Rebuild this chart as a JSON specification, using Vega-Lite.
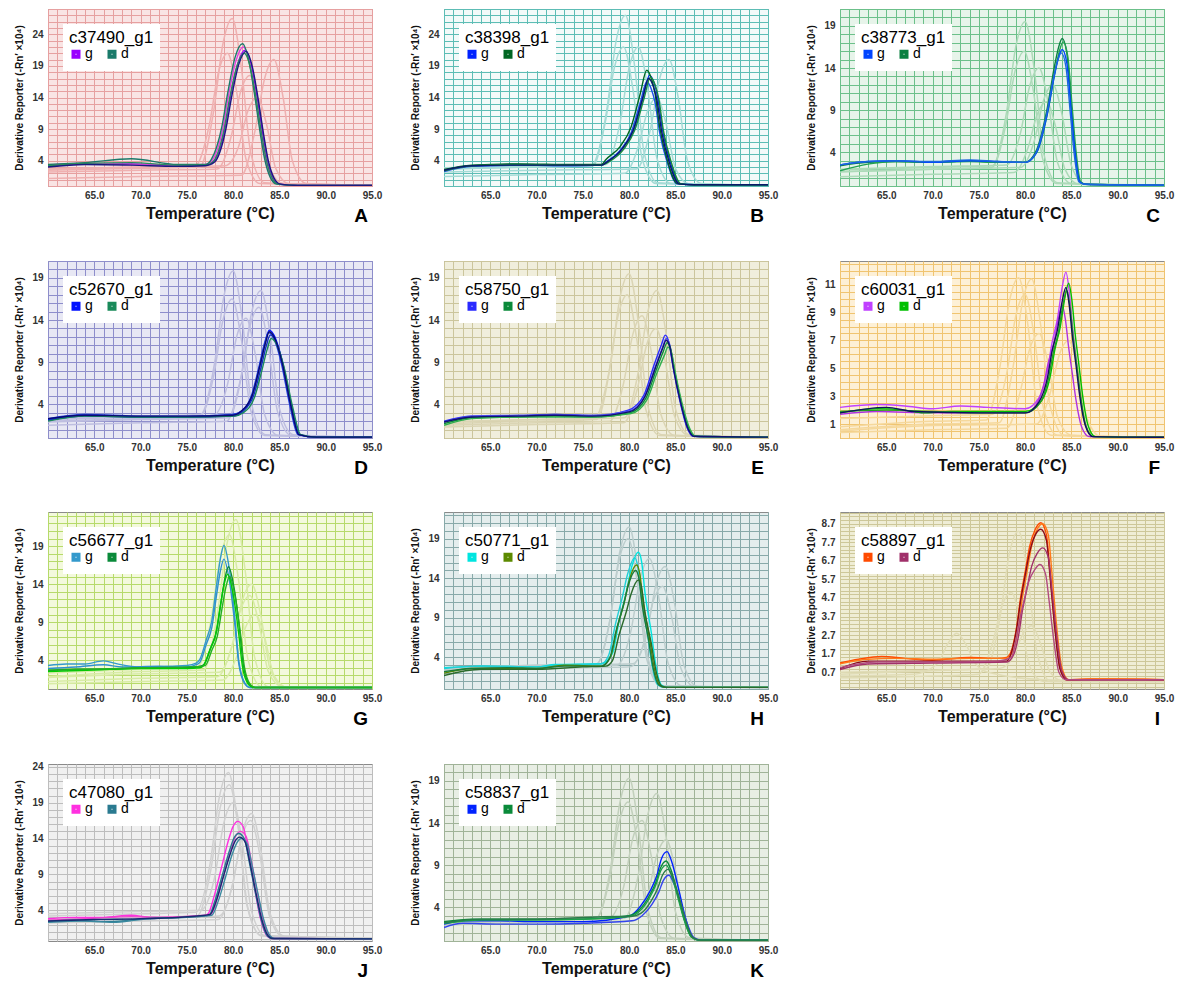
{
"$schema":"https://vega.github.io/schema/vega-lite/v6.json",
"padding":{"left":13,"top":3,"right":0,"bottom":0},
"columns":3,
"spacing":{"row":28,"column":26},
"resolve":{"scale":{"color":"independent","x":"independent","y":"independent"},"legend":{"color":"independent"}},
"config":{
"font":"Liberation Sans",
"axis":{"grid":true,"gridWidth":1,"gridOpacity":1,"domain":false,"ticks":false,"labelFont":"Liberation Sans","labelFontWeight":"bold","labelFontSize":10,"labelColor":"#333333","labelOverlap":false,"titleFont":"Liberation Sans","titleFontWeight":"bold","titleColor":"#111111"},
"axisX":{"tickCount":35,"labelPadding":4,"labelFlush":false,"titleFontSize":16,"titlePadding":5,"labelExpr":"datum.value%5==0&&datum.value>60?format(datum.value,'.1f'):''"},
"axisY":{"labelPadding":5,"titleFontSize":10,"titlePadding":7,"minExtent":17,"maxExtent":17},
"legend":{"orient":"top-left","offset":15,"direction":"horizontal","fillColor":"white","padding":6,"titleFontSize":17,"titleFontWeight":"normal","titleFont":"Liberation Sans","titleColor":"black","titlePadding":0,"labelFontSize":14,"labelColor":"black","labelFont":"Liberation Sans","symbolType":"square","symbolSize":25,"symbolStrokeWidth":4,"symbolOpacity":1,"columnPadding":8,"labelOffset":2},
"title":{"orient":"bottom","anchor":"end","frame":"group","fontSize":19,"fontWeight":"bold","font":"Liberation Sans","color":"black","offset":-14,"dx":-4}
},
"datasets":{
"A":[
{"i":"f1","x":60,"y":2.5},{"i":"f1","x":70,"y":2.8},{"i":"f1","x":76.4,"y":3.0},{"i":"f1","x":77.9,"y":11.9},{"i":"f1","x":78.9,"y":22.5},{"i":"f1","x":79.9,"y":26.5},{"i":"f1","x":80.9,"y":18.6},{"i":"f1","x":81.9,"y":5.3},{"i":"f1","x":83.4,"y":0.5},{"i":"f1","x":95,"y":0.1},
{"i":"f2","x":60,"y":2.7},{"i":"f2","x":70,"y":3.0},{"i":"f2","x":75.9,"y":3.2},{"i":"f2","x":77.4,"y":9.5},{"i":"f2","x":78.4,"y":17.9},{"i":"f2","x":79.4,"y":21},{"i":"f2","x":80.4,"y":14.7},{"i":"f2","x":81.4,"y":4.2},{"i":"f2","x":82.9,"y":0.4},{"i":"f2","x":95,"y":0.1},
{"i":"f3","x":60,"y":2.2},{"i":"f3","x":70,"y":2.5},{"i":"f3","x":78.3,"y":2.7},{"i":"f3","x":79.8,"y":7.9},{"i":"f3","x":80.8,"y":14.9},{"i":"f3","x":81.8,"y":17.5},{"i":"f3","x":82.8,"y":12.3},{"i":"f3","x":83.8,"y":3.5},{"i":"f3","x":85.3,"y":0.4},{"i":"f3","x":95,"y":0.1},
{"i":"f4","x":60,"y":1.2},{"i":"f4","x":70,"y":1.5},{"i":"f4","x":80.9,"y":1.7},{"i":"f4","x":82.4,"y":9},{"i":"f4","x":83.4,"y":17},{"i":"f4","x":84.4,"y":20},{"i":"f4","x":85.4,"y":14},{"i":"f4","x":86.4,"y":4},{"i":"f4","x":87.9,"y":0.4},{"i":"f4","x":95,"y":0.1},
{"i":"f5","x":60,"y":2.7},{"i":"f5","x":70,"y":3.0},{"i":"f5","x":79.1,"y":3.2},{"i":"f5","x":80.6,"y":6.3},{"i":"f5","x":81.6,"y":11.9},{"i":"f5","x":82.6,"y":14},{"i":"f5","x":83.6,"y":9.8},{"i":"f5","x":84.6,"y":2.8},{"i":"f5","x":86.1,"y":0.3},{"i":"f5","x":95,"y":0.1},
{"i":"g1","x":60,"y":3.1},{"i":"g1","x":64,"y":3.5},{"i":"g1","x":69,"y":3.5},{"i":"g1","x":74,"y":3.2},{"i":"g1","x":77,"y":3.3},{"i":"g1","x":77.9,"y":3.9},{"i":"g1","x":79.1,"y":9.0},{"i":"g1","x":79.7,"y":14},{"i":"g1","x":80.5,"y":19.4},{"i":"g1","x":81.3,"y":21.5},{"i":"g1","x":82,"y":18.9},{"i":"g1","x":82.6,"y":14},{"i":"g1","x":83.2,"y":8.2},{"i":"g1","x":83.7,"y":4.1},{"i":"g1","x":84.3,"y":1.3},{"i":"g1","x":85,"y":0.3},{"i":"g1","x":87,"y":0.1},{"i":"g1","x":95,"y":0.1},
{"i":"g2","x":60,"y":3.3},{"i":"g2","x":64,"y":3.6},{"i":"g2","x":69,"y":3.4},{"i":"g2","x":74,"y":3.3},{"i":"g2","x":77,"y":3.4},{"i":"g2","x":77.7,"y":4.0},{"i":"g2","x":78.9,"y":9.2},{"i":"g2","x":79.5,"y":14.3},{"i":"g2","x":80.3,"y":19.8},{"i":"g2","x":81.1,"y":22},{"i":"g2","x":81.8,"y":19.4},{"i":"g2","x":82.4,"y":14.3},{"i":"g2","x":83,"y":8.4},{"i":"g2","x":83.5,"y":4.2},{"i":"g2","x":84.1,"y":1.3},{"i":"g2","x":84.8,"y":0.3},{"i":"g2","x":87,"y":0.1},{"i":"g2","x":95,"y":0.1},
{"i":"d1","x":60,"y":3.4},{"i":"d1","x":64,"y":3.7},{"i":"d1","x":69,"y":4.3},{"i":"d1","x":74,"y":3.4},{"i":"d1","x":77,"y":3.4},{"i":"d1","x":77.6,"y":4.1},{"i":"d1","x":78.8,"y":9.5},{"i":"d1","x":79.4,"y":14.6},{"i":"d1","x":80.2,"y":20.3},{"i":"d1","x":81,"y":22.5},{"i":"d1","x":81.7,"y":19.8},{"i":"d1","x":82.3,"y":14.6},{"i":"d1","x":82.9,"y":8.6},{"i":"d1","x":83.4,"y":4.3},{"i":"d1","x":84,"y":1.4},{"i":"d1","x":84.7,"y":0.3},{"i":"d1","x":87,"y":0.1},{"i":"d1","x":95,"y":0.1},
{"i":"d2","x":60,"y":3.2},{"i":"d2","x":64,"y":3.6},{"i":"d2","x":69,"y":3.7},{"i":"d2","x":74,"y":3.3},{"i":"d2","x":77,"y":3.3},{"i":"d2","x":77.8,"y":3.8},{"i":"d2","x":79,"y":8.8},{"i":"d2","x":79.6,"y":13.7},{"i":"d2","x":80.4,"y":18.9},{"i":"d2","x":81.2,"y":21},{"i":"d2","x":81.9,"y":18.5},{"i":"d2","x":82.5,"y":13.7},{"i":"d2","x":83.1,"y":8.0},{"i":"d2","x":83.6,"y":4.0},{"i":"d2","x":84.2,"y":1.3},{"i":"d2","x":84.9,"y":0.3},{"i":"d2","x":87,"y":0.1},{"i":"d2","x":95,"y":0.1},
{"i":"k","x":60,"y":3.0},{"i":"k","x":64,"y":3.4},{"i":"k","x":69,"y":3.3},{"i":"k","x":74,"y":3.1},{"i":"k","x":77,"y":3.2},{"i":"k","x":78,"y":3.8},{"i":"k","x":79.2,"y":8.9},{"i":"k","x":79.8,"y":13.8},{"i":"k","x":80.6,"y":19.2},{"i":"k","x":81.4,"y":21.3},{"i":"k","x":82.1,"y":18.7},{"i":"k","x":82.7,"y":13.8},{"i":"k","x":83.3,"y":8.1},{"i":"k","x":83.8,"y":4.0},{"i":"k","x":84.4,"y":1.3},{"i":"k","x":85.1,"y":0.3},{"i":"k","x":87,"y":0.1},{"i":"k","x":95,"y":0.1}
],
"B":[
{"i":"f1","x":60,"y":2.7},{"i":"f1","x":70,"y":3.0},{"i":"f1","x":76.1,"y":3.2},{"i":"f1","x":77.6,"y":12.2},{"i":"f1","x":78.6,"y":23},{"i":"f1","x":79.6,"y":27},{"i":"f1","x":80.6,"y":18.9},{"i":"f1","x":81.6,"y":5.4},{"i":"f1","x":83.1,"y":0.5},{"i":"f1","x":95,"y":0.1},
{"i":"f2","x":60,"y":2.7},{"i":"f2","x":70,"y":3.0},{"i":"f2","x":75.9,"y":3.2},{"i":"f2","x":77.4,"y":9.9},{"i":"f2","x":78.4,"y":18.7},{"i":"f2","x":79.4,"y":22},{"i":"f2","x":80.4,"y":15.4},{"i":"f2","x":81.4,"y":4.4},{"i":"f2","x":82.9,"y":0.4},{"i":"f2","x":95,"y":0.1},
{"i":"f3","x":60,"y":2.9},{"i":"f3","x":70,"y":3.2},{"i":"f3","x":77.5,"y":3.4},{"i":"f3","x":79,"y":9.9},{"i":"f3","x":80,"y":18.7},{"i":"f3","x":81,"y":22},{"i":"f3","x":82,"y":15.4},{"i":"f3","x":83,"y":4.4},{"i":"f3","x":84.5,"y":0.4},{"i":"f3","x":95,"y":0.1},
{"i":"f4","x":60,"y":2.2},{"i":"f4","x":70,"y":2.5},{"i":"f4","x":80.8,"y":2.7},{"i":"f4","x":82.3,"y":9},{"i":"f4","x":83.3,"y":17},{"i":"f4","x":84.3,"y":20},{"i":"f4","x":85.3,"y":14},{"i":"f4","x":86.3,"y":4},{"i":"f4","x":87.8,"y":0.4},{"i":"f4","x":95,"y":0.1},
{"i":"f5","x":60,"y":1.5},{"i":"f5","x":70,"y":1.8},{"i":"f5","x":79.5,"y":2.0},{"i":"f5","x":81,"y":6.3},{"i":"f5","x":82,"y":11.9},{"i":"f5","x":83,"y":14},{"i":"f5","x":84,"y":9.8},{"i":"f5","x":85,"y":2.8},{"i":"f5","x":86.5,"y":0.3},{"i":"f5","x":95,"y":0.1},
{"i":"g1","x":60,"y":2.5},{"i":"g1","x":63,"y":3.2},{"i":"g1","x":68,"y":3.4},{"i":"g1","x":74,"y":3.3},{"i":"g1","x":77,"y":3.3},{"i":"g1","x":77.8,"y":4.0},{"i":"g1","x":79.3,"y":6.0},{"i":"g1","x":80.5,"y":8.9},{"i":"g1","x":81.5,"y":14},{"i":"g1","x":82.2,"y":17.5},{"i":"g1","x":82.7,"y":16.3},{"i":"g1","x":83.1,"y":14},{"i":"g1","x":83.6,"y":8.9},{"i":"g1","x":84.4,"y":4.0},{"i":"g1","x":85.5,"y":0.35},{"i":"g1","x":87,"y":0.2},{"i":"g1","x":95,"y":0.2},
{"i":"g2","x":60,"y":2.3},{"i":"g2","x":63,"y":3.1},{"i":"g2","x":68,"y":3.3},{"i":"g2","x":74,"y":3.2},{"i":"g2","x":77,"y":3.3},{"i":"g2","x":77.5,"y":3.8},{"i":"g2","x":79,"y":5.6},{"i":"g2","x":80.2,"y":8.4},{"i":"g2","x":81.2,"y":13.2},{"i":"g2","x":81.9,"y":16.5},{"i":"g2","x":82.4,"y":15.3},{"i":"g2","x":82.8,"y":13.2},{"i":"g2","x":83.3,"y":8.4},{"i":"g2","x":84.1,"y":3.8},{"i":"g2","x":85.2,"y":0.33},{"i":"g2","x":87,"y":0.2},{"i":"g2","x":95,"y":0.2},
{"i":"d1","x":60,"y":2.6},{"i":"d1","x":63,"y":3.3},{"i":"d1","x":68,"y":3.5},{"i":"d1","x":74,"y":3.4},{"i":"d1","x":77,"y":3.4},{"i":"d1","x":77.5,"y":4.2},{"i":"d1","x":79,"y":6.2},{"i":"d1","x":80.2,"y":9.3},{"i":"d1","x":81.2,"y":14.6},{"i":"d1","x":81.9,"y":18.3},{"i":"d1","x":82.4,"y":17},{"i":"d1","x":82.8,"y":14.6},{"i":"d1","x":83.3,"y":9.3},{"i":"d1","x":84.1,"y":4.2},{"i":"d1","x":85.2,"y":0.37},{"i":"d1","x":87,"y":0.2},{"i":"d1","x":95,"y":0.2},
{"i":"d2","x":60,"y":2.4},{"i":"d2","x":63,"y":3.2},{"i":"d2","x":68,"y":3.4},{"i":"d2","x":74,"y":3.3},{"i":"d2","x":77,"y":3.3},{"i":"d2","x":77.9,"y":3.9},{"i":"d2","x":79.4,"y":5.8},{"i":"d2","x":80.6,"y":8.8},{"i":"d2","x":81.6,"y":13.8},{"i":"d2","x":82.3,"y":17.2},{"i":"d2","x":82.8,"y":16},{"i":"d2","x":83.2,"y":13.8},{"i":"d2","x":83.7,"y":8.8},{"i":"d2","x":84.5,"y":4.0},{"i":"d2","x":85.6,"y":0.34},{"i":"d2","x":87,"y":0.2},{"i":"d2","x":95,"y":0.2},
{"i":"k","x":60,"y":2.5},{"i":"k","x":63,"y":3.2},{"i":"k","x":68,"y":3.3},{"i":"k","x":74,"y":3.3},{"i":"k","x":77,"y":3.3},{"i":"k","x":77.7,"y":3.9},{"i":"k","x":79.2,"y":5.8},{"i":"k","x":80.4,"y":8.7},{"i":"k","x":81.4,"y":13.6},{"i":"k","x":82.1,"y":17},{"i":"k","x":82.6,"y":15.8},{"i":"k","x":83,"y":13.6},{"i":"k","x":83.5,"y":8.7},{"i":"k","x":84.3,"y":3.9},{"i":"k","x":85.4,"y":0.34},{"i":"k","x":87,"y":0.2},{"i":"k","x":95,"y":0.2}
],
"C":[
{"i":"f1","x":60,"y":1.9},{"i":"f1","x":70,"y":2.2},{"i":"f1","x":76.5,"y":2.4},{"i":"f1","x":78,"y":8.8},{"i":"f1","x":79,"y":16.6},{"i":"f1","x":80,"y":19.5},{"i":"f1","x":81,"y":13.7},{"i":"f1","x":82,"y":3.9},{"i":"f1","x":83.5,"y":0.4},{"i":"f1","x":95,"y":0.1},
{"i":"f2","x":60,"y":1.7},{"i":"f2","x":70,"y":2.0},{"i":"f2","x":76.4,"y":2.2},{"i":"f2","x":77.9,"y":7.2},{"i":"f2","x":78.9,"y":13.6},{"i":"f2","x":79.9,"y":16},{"i":"f2","x":80.9,"y":11.2},{"i":"f2","x":81.9,"y":3.2},{"i":"f2","x":83.4,"y":0.3},{"i":"f2","x":95,"y":0.1},
{"i":"f3","x":60,"y":2.0},{"i":"f3","x":70,"y":2.3},{"i":"f3","x":78,"y":2.5},{"i":"f3","x":79.5,"y":6.3},{"i":"f3","x":80.5,"y":11.9},{"i":"f3","x":81.5,"y":14},{"i":"f3","x":82.5,"y":9.8},{"i":"f3","x":83.5,"y":2.8},{"i":"f3","x":85,"y":0.3},{"i":"f3","x":95,"y":0.1},
{"i":"f4","x":60,"y":1.7},{"i":"f4","x":70,"y":2.0},{"i":"f4","x":79.5,"y":2.2},{"i":"f4","x":81,"y":5.4},{"i":"f4","x":82,"y":10.2},{"i":"f4","x":83,"y":12},{"i":"f4","x":84,"y":8.4},{"i":"f4","x":85,"y":2.4},{"i":"f4","x":86.5,"y":0.2},{"i":"f4","x":95,"y":0.1},
{"i":"f5","x":60,"y":1.1},{"i":"f5","x":70,"y":1.4},{"i":"f5","x":78.8,"y":1.6},{"i":"f5","x":80.3,"y":4.5},{"i":"f5","x":81.3,"y":8.5},{"i":"f5","x":82.3,"y":10},{"i":"f5","x":83.3,"y":7},{"i":"f5","x":84.3,"y":2},{"i":"f5","x":85.8,"y":0.2},{"i":"f5","x":95,"y":0.1},
{"i":"d1","x":60,"y":2.4},{"i":"d1","x":63,"y":2.8},{"i":"d1","x":66,"y":2.9},{"i":"d1","x":70,"y":2.8},{"i":"d1","x":74,"y":3.0},{"i":"d1","x":77,"y":2.8},{"i":"d1","x":80,"y":2.8},{"i":"d1","x":81.2,"y":4.2},{"i":"d1","x":82.4,"y":9.3},{"i":"d1","x":83.2,"y":14.4},{"i":"d1","x":83.65,"y":16.6},{"i":"d1","x":84,"y":17.5},{"i":"d1","x":84.5,"y":15.8},{"i":"d1","x":85,"y":9.3},{"i":"d1","x":85.4,"y":4.2},{"i":"d1","x":85.9,"y":0.5},{"i":"d1","x":86.5,"y":0.2},{"i":"d1","x":95,"y":0.1},
{"i":"d2","x":60,"y":1.8},{"i":"d2","x":63,"y":2.6},{"i":"d2","x":66,"y":2.9},{"i":"d2","x":70,"y":2.8},{"i":"d2","x":74,"y":2.9},{"i":"d2","x":77,"y":2.8},{"i":"d2","x":80,"y":2.8},{"i":"d2","x":81.3,"y":4.1},{"i":"d2","x":82.5,"y":9.1},{"i":"d2","x":83.3,"y":14},{"i":"d2","x":83.75,"y":16.2},{"i":"d2","x":84.1,"y":17.1},{"i":"d2","x":84.6,"y":15.4},{"i":"d2","x":85.1,"y":9.1},{"i":"d2","x":85.5,"y":4.1},{"i":"d2","x":86,"y":0.5},{"i":"d2","x":86.6,"y":0.2},{"i":"d2","x":95,"y":0.1},
{"i":"g1","x":60,"y":2.5},{"i":"g1","x":63,"y":2.9},{"i":"g1","x":66,"y":3.0},{"i":"g1","x":70,"y":2.8},{"i":"g1","x":74,"y":3.0},{"i":"g1","x":77,"y":2.9},{"i":"g1","x":80,"y":2.8},{"i":"g1","x":81.2,"y":3.9},{"i":"g1","x":82.4,"y":8.6},{"i":"g1","x":83.2,"y":13.3},{"i":"g1","x":83.65,"y":15.4},{"i":"g1","x":84,"y":16.2},{"i":"g1","x":84.5,"y":14.6},{"i":"g1","x":85,"y":8.6},{"i":"g1","x":85.4,"y":3.9},{"i":"g1","x":85.9,"y":0.5},{"i":"g1","x":86.5,"y":0.2},{"i":"g1","x":95,"y":0.1},
{"i":"g2","x":60,"y":2.5},{"i":"g2","x":63,"y":2.9},{"i":"g2","x":66,"y":3.0},{"i":"g2","x":70,"y":2.9},{"i":"g2","x":74,"y":3.1},{"i":"g2","x":77,"y":2.9},{"i":"g2","x":80,"y":2.8},{"i":"g2","x":81.1,"y":3.8},{"i":"g2","x":82.3,"y":8.4},{"i":"g2","x":83.1,"y":13},{"i":"g2","x":83.55,"y":15},{"i":"g2","x":83.9,"y":15.8},{"i":"g2","x":84.4,"y":14.2},{"i":"g2","x":84.9,"y":8.4},{"i":"g2","x":85.3,"y":3.8},{"i":"g2","x":85.8,"y":0.5},{"i":"g2","x":86.4,"y":0.2},{"i":"g2","x":95,"y":0.1}
],
"D":[
{"i":"f1","x":60,"y":2.3},{"i":"f1","x":70,"y":2.6},{"i":"f1","x":76.5,"y":2.8},{"i":"f1","x":78,"y":8.9},{"i":"f1","x":79,"y":16.8},{"i":"f1","x":80,"y":19.8},{"i":"f1","x":81,"y":13.9},{"i":"f1","x":82,"y":4.0},{"i":"f1","x":83.5,"y":0.4},{"i":"f1","x":95,"y":0.1},
{"i":"f2","x":60,"y":2.0},{"i":"f2","x":70,"y":2.3},{"i":"f2","x":76.4,"y":2.5},{"i":"f2","x":77.9,"y":7.4},{"i":"f2","x":78.9,"y":14},{"i":"f2","x":79.9,"y":16.5},{"i":"f2","x":80.9,"y":11.6},{"i":"f2","x":81.9,"y":3.3},{"i":"f2","x":83.4,"y":0.3},{"i":"f2","x":95,"y":0.1},
{"i":"f3","x":60,"y":2.2},{"i":"f3","x":70,"y":2.5},{"i":"f3","x":77.9,"y":2.7},{"i":"f3","x":79.4,"y":6.4},{"i":"f3","x":80.4,"y":12.1},{"i":"f3","x":81.4,"y":14.2},{"i":"f3","x":82.4,"y":9.9},{"i":"f3","x":83.4,"y":2.8},{"i":"f3","x":84.9,"y":0.3},{"i":"f3","x":95,"y":0.1},
{"i":"f4","x":60,"y":1.9},{"i":"f4","x":70,"y":2.2},{"i":"f4","x":79.5,"y":2.4},{"i":"f4","x":81,"y":7.9},{"i":"f4","x":82,"y":14.9},{"i":"f4","x":83,"y":17.5},{"i":"f4","x":84,"y":12.3},{"i":"f4","x":85,"y":3.5},{"i":"f4","x":86.5,"y":0.4},{"i":"f4","x":95,"y":0.1},
{"i":"f5","x":60,"y":1.5},{"i":"f5","x":70,"y":1.8},{"i":"f5","x":79.3,"y":2.0},{"i":"f5","x":80.8,"y":7},{"i":"f5","x":81.8,"y":13.2},{"i":"f5","x":82.8,"y":15.5},{"i":"f5","x":83.8,"y":10.9},{"i":"f5","x":84.8,"y":3.1},{"i":"f5","x":86.3,"y":0.3},{"i":"f5","x":95,"y":0.1},
{"i":"g1","x":60,"y":2.2},{"i":"g1","x":64,"y":2.7},{"i":"g1","x":70,"y":2.5},{"i":"g1","x":75,"y":2.5},{"i":"g1","x":79.9,"y":2.7},{"i":"g1","x":80.9,"y":3.2},{"i":"g1","x":82.1,"y":5.2},{"i":"g1","x":82.9,"y":8.7},{"i":"g1","x":83.5,"y":11.5},{"i":"g1","x":83.9,"y":12.8},{"i":"g1","x":84.5,"y":12},{"i":"g1","x":85.3,"y":9.1},{"i":"g1","x":86.2,"y":4.1},{"i":"g1","x":87.1,"y":0.4},{"i":"g1","x":89,"y":0.1},{"i":"g1","x":95,"y":0.1},
{"i":"g2","x":60,"y":2.3},{"i":"g2","x":64,"y":2.8},{"i":"g2","x":70,"y":2.6},{"i":"g2","x":75,"y":2.6},{"i":"g2","x":79.8,"y":2.8},{"i":"g2","x":80.8,"y":3.1},{"i":"g2","x":82,"y":5.1},{"i":"g2","x":82.8,"y":8.5},{"i":"g2","x":83.4,"y":11.3},{"i":"g2","x":83.8,"y":12.5},{"i":"g2","x":84.4,"y":11.8},{"i":"g2","x":85.2,"y":8.9},{"i":"g2","x":86.1,"y":4.0},{"i":"g2","x":87,"y":0.4},{"i":"g2","x":89,"y":0.1},{"i":"g2","x":95,"y":0.1},
{"i":"g3","x":60,"y":2.1},{"i":"g3","x":64,"y":2.6},{"i":"g3","x":70,"y":2.5},{"i":"g3","x":75,"y":2.5},{"i":"g3","x":80,"y":2.6},{"i":"g3","x":81,"y":3.1},{"i":"g3","x":82.2,"y":5.0},{"i":"g3","x":83,"y":8.3},{"i":"g3","x":83.6,"y":11},{"i":"g3","x":84,"y":12.2},{"i":"g3","x":84.6,"y":11.5},{"i":"g3","x":85.4,"y":8.7},{"i":"g3","x":86.3,"y":3.9},{"i":"g3","x":87.2,"y":0.4},{"i":"g3","x":89,"y":0.1},{"i":"g3","x":95,"y":0.1},
{"i":"d1","x":60,"y":2.0},{"i":"d1","x":64,"y":2.6},{"i":"d1","x":70,"y":2.5},{"i":"d1","x":75,"y":2.5},{"i":"d1","x":80.1,"y":2.6},{"i":"d1","x":81.1,"y":3.0},{"i":"d1","x":82.3,"y":4.8},{"i":"d1","x":83.1,"y":8.0},{"i":"d1","x":83.7,"y":10.6},{"i":"d1","x":84.1,"y":11.8},{"i":"d1","x":84.7,"y":11.1},{"i":"d1","x":85.5,"y":8.4},{"i":"d1","x":86.4,"y":3.8},{"i":"d1","x":87.3,"y":0.4},{"i":"d1","x":89,"y":0.1},{"i":"d1","x":95,"y":0.1},
{"i":"k","x":60,"y":2.3},{"i":"k","x":64,"y":2.7},{"i":"k","x":70,"y":2.6},{"i":"k","x":75,"y":2.6},{"i":"k","x":79.9,"y":2.7},{"i":"k","x":80.9,"y":3.2},{"i":"k","x":82.1,"y":5.2},{"i":"k","x":82.9,"y":8.6},{"i":"k","x":83.5,"y":11.3},{"i":"k","x":83.9,"y":12.6},{"i":"k","x":84.5,"y":11.8},{"i":"k","x":85.3,"y":8.9},{"i":"k","x":86.2,"y":4.0},{"i":"k","x":87.1,"y":0.4},{"i":"k","x":89,"y":0.1},{"i":"k","x":95,"y":0.1}
],
"E":[
{"i":"f1","x":60,"y":1.7},{"i":"f1","x":70,"y":2.0},{"i":"f1","x":76.5,"y":2.2},{"i":"f1","x":78,"y":8.8},{"i":"f1","x":79,"y":16.6},{"i":"f1","x":80,"y":19.5},{"i":"f1","x":81,"y":13.7},{"i":"f1","x":82,"y":3.9},{"i":"f1","x":83.5,"y":0.4},{"i":"f1","x":95,"y":0.1},
{"i":"f2","x":60,"y":1.9},{"i":"f2","x":70,"y":2.2},{"i":"f2","x":76.3,"y":2.4},{"i":"f2","x":77.8,"y":7.7},{"i":"f2","x":78.8,"y":14.5},{"i":"f2","x":79.8,"y":17},{"i":"f2","x":80.8,"y":11.9},{"i":"f2","x":81.8,"y":3.4},{"i":"f2","x":83.3,"y":0.3},{"i":"f2","x":95,"y":0.1},
{"i":"f3","x":60,"y":1.5},{"i":"f3","x":70,"y":1.8},{"i":"f3","x":77.9,"y":2.0},{"i":"f3","x":79.4,"y":6.5},{"i":"f3","x":80.4,"y":12.3},{"i":"f3","x":81.4,"y":14.5},{"i":"f3","x":82.4,"y":10.2},{"i":"f3","x":83.4,"y":2.9},{"i":"f3","x":84.9,"y":0.3},{"i":"f3","x":95,"y":0.1},
{"i":"f4","x":60,"y":1.9},{"i":"f4","x":70,"y":2.2},{"i":"f4","x":79.5,"y":2.4},{"i":"f4","x":81,"y":7.9},{"i":"f4","x":82,"y":14.9},{"i":"f4","x":83,"y":17.5},{"i":"f4","x":84,"y":12.3},{"i":"f4","x":85,"y":3.5},{"i":"f4","x":86.5,"y":0.4},{"i":"f4","x":95,"y":0.1},
{"i":"f5","x":60,"y":1.3},{"i":"f5","x":70,"y":1.6},{"i":"f5","x":79.4,"y":1.8},{"i":"f5","x":80.9,"y":5.9},{"i":"f5","x":81.9,"y":11.1},{"i":"f5","x":82.9,"y":13},{"i":"f5","x":83.9,"y":9.1},{"i":"f5","x":84.9,"y":2.6},{"i":"f5","x":86.4,"y":0.3},{"i":"f5","x":95,"y":0.1},
{"i":"g1","x":60,"y":2.0},{"i":"g1","x":63,"y":2.6},{"i":"g1","x":68,"y":2.6},{"i":"g1","x":72,"y":2.8},{"i":"g1","x":76,"y":2.6},{"i":"g1","x":79.9,"y":3.3},{"i":"g1","x":81.6,"y":5.1},{"i":"g1","x":82.7,"y":8.7},{"i":"g1","x":83.5,"y":11.1},{"i":"g1","x":83.9,"y":12.2},{"i":"g1","x":84.3,"y":11.3},{"i":"g1","x":84.7,"y":8.7},{"i":"g1","x":85.4,"y":4.8},{"i":"g1","x":86.3,"y":1.1},{"i":"g1","x":86.9,"y":0.2},{"i":"g1","x":95,"y":0.1},
{"i":"g2","x":60,"y":1.9},{"i":"g2","x":63,"y":2.6},{"i":"g2","x":68,"y":2.7},{"i":"g2","x":72,"y":2.8},{"i":"g2","x":76,"y":2.7},{"i":"g2","x":80,"y":3.2},{"i":"g2","x":81.7,"y":5.0},{"i":"g2","x":82.8,"y":8.4},{"i":"g2","x":83.6,"y":10.7},{"i":"g2","x":84,"y":11.8},{"i":"g2","x":84.4,"y":11},{"i":"g2","x":84.8,"y":8.4},{"i":"g2","x":85.5,"y":4.6},{"i":"g2","x":86.4,"y":1.1},{"i":"g2","x":87,"y":0.2},{"i":"g2","x":95,"y":0.1},
{"i":"d1","x":60,"y":1.7},{"i":"d1","x":63,"y":2.4},{"i":"d1","x":68,"y":2.5},{"i":"d1","x":72,"y":2.6},{"i":"d1","x":76,"y":2.5},{"i":"d1","x":80.1,"y":3.0},{"i":"d1","x":81.8,"y":4.7},{"i":"d1","x":82.9,"y":8.0},{"i":"d1","x":83.7,"y":10.3},{"i":"d1","x":84.1,"y":11.3},{"i":"d1","x":84.5,"y":10.5},{"i":"d1","x":84.9,"y":8.0},{"i":"d1","x":85.6,"y":4.4},{"i":"d1","x":86.5,"y":1.0},{"i":"d1","x":87.1,"y":0.2},{"i":"d1","x":95,"y":0.1},
{"i":"d2","x":60,"y":1.5},{"i":"d2","x":63,"y":2.3},{"i":"d2","x":68,"y":2.5},{"i":"d2","x":72,"y":2.5},{"i":"d2","x":76,"y":2.5},{"i":"d2","x":80.2,"y":2.9},{"i":"d2","x":81.9,"y":4.5},{"i":"d2","x":83,"y":7.7},{"i":"d2","x":83.8,"y":9.8},{"i":"d2","x":84.2,"y":10.8},{"i":"d2","x":84.6,"y":10},{"i":"d2","x":85,"y":7.7},{"i":"d2","x":85.7,"y":4.2},{"i":"d2","x":86.6,"y":1.0},{"i":"d2","x":87.2,"y":0.2},{"i":"d2","x":95,"y":0.1},
{"i":"k","x":60,"y":1.9},{"i":"k","x":63,"y":2.5},{"i":"k","x":68,"y":2.6},{"i":"k","x":72,"y":2.7},{"i":"k","x":76,"y":2.6},{"i":"k","x":80,"y":3.1},{"i":"k","x":81.7,"y":4.9},{"i":"k","x":82.8,"y":8.2},{"i":"k","x":83.6,"y":10.6},{"i":"k","x":84,"y":11.6},{"i":"k","x":84.4,"y":10.8},{"i":"k","x":84.8,"y":8.2},{"i":"k","x":85.5,"y":4.5},{"i":"k","x":86.4,"y":1.0},{"i":"k","x":87,"y":0.2},{"i":"k","x":95,"y":0.1}
],
"F":[
{"i":"f1","x":60,"y":0.8},{"i":"f1","x":70,"y":1.2},{"i":"f1","x":75.8,"y":1.3},{"i":"f1","x":77.3,"y":5.2},{"i":"f1","x":78.3,"y":9.8},{"i":"f1","x":79.3,"y":11.5},{"i":"f1","x":80.3,"y":8.1},{"i":"f1","x":81.3,"y":2.3},{"i":"f1","x":82.8,"y":0.2},{"i":"f1","x":95,"y":0.05},
{"i":"f2","x":60,"y":0.6},{"i":"f2","x":70,"y":1.0},{"i":"f2","x":77.2,"y":1.1},{"i":"f2","x":78.7,"y":5.1},{"i":"f2","x":79.7,"y":9.7},{"i":"f2","x":80.7,"y":11.4},{"i":"f2","x":81.7,"y":8.0},{"i":"f2","x":82.7,"y":2.3},{"i":"f2","x":84.2,"y":0.2},{"i":"f2","x":95,"y":0.05},
{"i":"f3","x":60,"y":1.4},{"i":"f3","x":70,"y":1.6},{"i":"f3","x":76.5,"y":1.7},{"i":"f3","x":78,"y":4.6},{"i":"f3","x":79,"y":8.8},{"i":"f3","x":80,"y":10.3},{"i":"f3","x":81,"y":7.2},{"i":"f3","x":82,"y":2.1},{"i":"f3","x":83.5,"y":0.2},{"i":"f3","x":95,"y":0.05},
{"i":"f4","x":60,"y":0.4},{"i":"f4","x":70,"y":0.6},{"i":"f4","x":78,"y":0.7},{"i":"f4","x":79.5,"y":3.4},{"i":"f4","x":80.5,"y":6.4},{"i":"f4","x":81.5,"y":7.5},{"i":"f4","x":82.5,"y":5.3},{"i":"f4","x":83.5,"y":1.5},{"i":"f4","x":85,"y":0.2},{"i":"f4","x":95,"y":0.05},
{"i":"f5","x":60,"y":0.5},{"i":"f5","x":70,"y":0.9},{"i":"f5","x":81.2,"y":1.0},{"i":"f5","x":82.7,"y":3.2},{"i":"f5","x":83.7,"y":6.0},{"i":"f5","x":84.7,"y":7},{"i":"f5","x":85.7,"y":4.9},{"i":"f5","x":86.7,"y":1.4},{"i":"f5","x":88.2,"y":0.1},{"i":"f5","x":95,"y":0.05},
{"i":"g1","x":60,"y":2.2},{"i":"g1","x":64,"y":2.4},{"i":"g1","x":67,"y":2.3},{"i":"g1","x":70,"y":2.1},{"i":"g1","x":73,"y":2.3},{"i":"g1","x":76,"y":2.2},{"i":"g1","x":80,"y":2.1},{"i":"g1","x":81.5,"y":2.9},{"i":"g1","x":82.4,"y":4.8},{"i":"g1","x":82.9,"y":6.8},{"i":"g1","x":83.5,"y":8.6},{"i":"g1","x":84,"y":10.8},{"i":"g1","x":84.4,"y":11.9},{"i":"g1","x":84.75,"y":10.6},{"i":"g1","x":85.1,"y":8.1},{"i":"g1","x":85.5,"y":5.7},{"i":"g1","x":85.9,"y":3.3},{"i":"g1","x":86.5,"y":1.0},{"i":"g1","x":87.3,"y":0.1},{"i":"g1","x":95,"y":0.05},
{"i":"g2","x":60,"y":1.7},{"i":"g2","x":64,"y":1.9},{"i":"g2","x":70,"y":1.8},{"i":"g2","x":76,"y":1.8},{"i":"g2","x":80,"y":1.8},{"i":"g2","x":81.1,"y":2.3},{"i":"g2","x":82,"y":3.8},{"i":"g2","x":82.5,"y":5.4},{"i":"g2","x":83.1,"y":6.8},{"i":"g2","x":83.6,"y":8.6},{"i":"g2","x":84,"y":9.5},{"i":"g2","x":84.35,"y":8.5},{"i":"g2","x":84.7,"y":6.5},{"i":"g2","x":85.1,"y":4.6},{"i":"g2","x":85.5,"y":2.7},{"i":"g2","x":86.1,"y":0.8},{"i":"g2","x":86.9,"y":0.1},{"i":"g2","x":95,"y":0.05},
{"i":"d1","x":60,"y":1.8},{"i":"d1","x":64,"y":2.1},{"i":"d1","x":67,"y":2.0},{"i":"d1","x":69,"y":1.8},{"i":"d1","x":72,"y":1.9},{"i":"d1","x":76,"y":1.9},{"i":"d1","x":80,"y":1.9},{"i":"d1","x":81.8,"y":2.7},{"i":"d1","x":82.7,"y":4.4},{"i":"d1","x":83.2,"y":6.3},{"i":"d1","x":83.8,"y":8},{"i":"d1","x":84.3,"y":10.1},{"i":"d1","x":84.7,"y":11.1},{"i":"d1","x":85.05,"y":9.9},{"i":"d1","x":85.4,"y":7.5},{"i":"d1","x":85.8,"y":5.3},{"i":"d1","x":86.2,"y":3.1},{"i":"d1","x":86.8,"y":0.9},{"i":"d1","x":87.6,"y":0.1},{"i":"d1","x":95,"y":0.05},
{"i":"d2","x":60,"y":1.9},{"i":"d2","x":65,"y":2.0},{"i":"d2","x":70,"y":1.9},{"i":"d2","x":76,"y":1.8},{"i":"d2","x":80,"y":1.8},{"i":"d2","x":81.6,"y":2.5},{"i":"d2","x":82.5,"y":4.2},{"i":"d2","x":83,"y":6},{"i":"d2","x":83.6,"y":7.6},{"i":"d2","x":84.1,"y":9.6},{"i":"d2","x":84.5,"y":10.6},{"i":"d2","x":84.85,"y":9.4},{"i":"d2","x":85.2,"y":7.2},{"i":"d2","x":85.6,"y":5.1},{"i":"d2","x":86,"y":3.0},{"i":"d2","x":86.6,"y":0.8},{"i":"d2","x":87.4,"y":0.1},{"i":"d2","x":95,"y":0.05},
{"i":"k","x":60,"y":1.8},{"i":"k","x":65,"y":2.2},{"i":"k","x":68,"y":1.9},{"i":"k","x":75,"y":1.8},{"i":"k","x":80,"y":1.8},{"i":"k","x":81.5,"y":2.6},{"i":"k","x":82.4,"y":4.3},{"i":"k","x":82.9,"y":6.2},{"i":"k","x":83.5,"y":7.8},{"i":"k","x":84,"y":9.8},{"i":"k","x":84.4,"y":10.8},{"i":"k","x":84.75,"y":9.6},{"i":"k","x":85.1,"y":7.3},{"i":"k","x":85.5,"y":5.2},{"i":"k","x":85.9,"y":3.0},{"i":"k","x":86.5,"y":0.9},{"i":"k","x":87.3,"y":0.1},{"i":"k","x":95,"y":0.05}
],
"G":[
{"i":"f1","x":60,"y":1.8},{"i":"f1","x":70,"y":2.5},{"i":"f1","x":76.8,"y":2.7},{"i":"f1","x":78.3,"y":10.1},{"i":"f1","x":79.3,"y":19.1},{"i":"f1","x":80.3,"y":22.5},{"i":"f1","x":81.3,"y":15.8},{"i":"f1","x":82.3,"y":4.5},{"i":"f1","x":83.8,"y":0.5},{"i":"f1","x":95,"y":0.4},
{"i":"f2","x":60,"y":2.3},{"i":"f2","x":70,"y":2.8},{"i":"f2","x":76.1,"y":3.0},{"i":"f2","x":77.6,"y":9.2},{"i":"f2","x":78.6,"y":17.4},{"i":"f2","x":79.6,"y":20.5},{"i":"f2","x":80.6,"y":14.4},{"i":"f2","x":81.6,"y":4.1},{"i":"f2","x":83.1,"y":0.5},{"i":"f2","x":95,"y":0.4},
{"i":"f3","x":60,"y":1.7},{"i":"f3","x":70,"y":2.2},{"i":"f3","x":78.5,"y":2.4},{"i":"f3","x":80,"y":6.3},{"i":"f3","x":81,"y":11.9},{"i":"f3","x":82,"y":14},{"i":"f3","x":83,"y":9.8},{"i":"f3","x":84,"y":2.8},{"i":"f3","x":85.5,"y":0.5},{"i":"f3","x":95,"y":0.4},
{"i":"f4","x":60,"y":1.2},{"i":"f4","x":70,"y":1.6},{"i":"f4","x":78.3,"y":1.8},{"i":"f4","x":79.8,"y":5.6},{"i":"f4","x":80.8,"y":10.6},{"i":"f4","x":81.8,"y":12.5},{"i":"f4","x":82.8,"y":8.8},{"i":"f4","x":83.8,"y":2.5},{"i":"f4","x":85.3,"y":0.5},{"i":"f4","x":95,"y":0.4},
{"i":"f5","x":60,"y":0.9},{"i":"f5","x":70,"y":1.2},{"i":"f5","x":78.9,"y":1.4},{"i":"f5","x":80.4,"y":4.5},{"i":"f5","x":81.4,"y":8.5},{"i":"f5","x":82.4,"y":10},{"i":"f5","x":83.4,"y":7},{"i":"f5","x":84.4,"y":2},{"i":"f5","x":85.9,"y":0.4},{"i":"f5","x":95,"y":0.4},
{"i":"g1","x":60,"y":3.3},{"i":"g1","x":62,"y":3.5},{"i":"g1","x":64,"y":3.5},{"i":"g1","x":66,"y":3.9},{"i":"g1","x":67.5,"y":3.5},{"i":"g1","x":70,"y":3.1},{"i":"g1","x":75,"y":3.3},{"i":"g1","x":76,"y":3.6},{"i":"g1","x":76.4,"y":4.1},{"i":"g1","x":77.1,"y":6.7},{"i":"g1","x":77.7,"y":9.2},{"i":"g1","x":78.2,"y":13.8},{"i":"g1","x":78.6,"y":17.2},{"i":"g1","x":79,"y":19.1},{"i":"g1","x":79.6,"y":15.9},{"i":"g1","x":80.2,"y":9.4},{"i":"g1","x":80.6,"y":4.0},{"i":"g1","x":81.25,"y":1.0},{"i":"g1","x":81.8,"y":0.4},{"i":"g1","x":95,"y":0.4},
{"i":"g2","x":60,"y":2.9},{"i":"g2","x":63,"y":3.1},{"i":"g2","x":66,"y":3.4},{"i":"g2","x":68,"y":3.1},{"i":"g2","x":72,"y":3.2},{"i":"g2","x":75,"y":3.1},{"i":"g2","x":76,"y":3.4},{"i":"g2","x":76.4,"y":3.7},{"i":"g2","x":77.1,"y":6.1},{"i":"g2","x":77.7,"y":8.3},{"i":"g2","x":78.2,"y":12.5},{"i":"g2","x":78.6,"y":15.6},{"i":"g2","x":79,"y":17.3},{"i":"g2","x":79.6,"y":14.4},{"i":"g2","x":80.2,"y":8.5},{"i":"g2","x":80.6,"y":3.6},{"i":"g2","x":81.25,"y":0.9},{"i":"g2","x":81.8,"y":0.4},{"i":"g2","x":95,"y":0.4},
{"i":"d1","x":60,"y":2.6},{"i":"d1","x":63,"y":2.8},{"i":"d1","x":67,"y":2.8},{"i":"d1","x":70,"y":3.0},{"i":"d1","x":75,"y":3.0},{"i":"d1","x":76.5,"y":3.2},{"i":"d1","x":76.9,"y":3.5},{"i":"d1","x":77.6,"y":5.7},{"i":"d1","x":78.2,"y":7.8},{"i":"d1","x":78.7,"y":11.7},{"i":"d1","x":79.1,"y":14.7},{"i":"d1","x":79.5,"y":16.3},{"i":"d1","x":80.1,"y":13.5},{"i":"d1","x":80.7,"y":8.0},{"i":"d1","x":81.1,"y":3.4},{"i":"d1","x":81.75,"y":0.8},{"i":"d1","x":82.3,"y":0.4},{"i":"d1","x":95,"y":0.4},
{"i":"d2","x":60,"y":2.5},{"i":"d2","x":65,"y":2.7},{"i":"d2","x":70,"y":2.9},{"i":"d2","x":75,"y":2.9},{"i":"d2","x":76.4,"y":3.0},{"i":"d2","x":76.8,"y":3.3},{"i":"d2","x":77.5,"y":5.4},{"i":"d2","x":78.1,"y":7.3},{"i":"d2","x":78.6,"y":11},{"i":"d2","x":79,"y":13.8},{"i":"d2","x":79.4,"y":15.3},{"i":"d2","x":80,"y":12.7},{"i":"d2","x":80.6,"y":7.5},{"i":"d2","x":81,"y":3.2},{"i":"d2","x":81.65,"y":0.8},{"i":"d2","x":82.2,"y":0.4},{"i":"d2","x":95,"y":0.4},
{"i":"d3","x":60,"y":2.7},{"i":"d3","x":65,"y":2.8},{"i":"d3","x":70,"y":3.0},{"i":"d3","x":75,"y":3.1},{"i":"d3","x":76.6,"y":3.2},{"i":"d3","x":77,"y":3.3},{"i":"d3","x":77.7,"y":5.3},{"i":"d3","x":78.3,"y":7.2},{"i":"d3","x":78.8,"y":10.8},{"i":"d3","x":79.2,"y":13.5},{"i":"d3","x":79.6,"y":15},{"i":"d3","x":80.2,"y":12.5},{"i":"d3","x":80.8,"y":7.4},{"i":"d3","x":81.2,"y":3.2},{"i":"d3","x":81.85,"y":0.8},{"i":"d3","x":82.4,"y":0.4},{"i":"d3","x":95,"y":0.4}
],
"H":[
{"i":"f1","x":60,"y":2.7},{"i":"f1","x":70,"y":3.0},{"i":"f1","x":76.5,"y":3.2},{"i":"f1","x":78,"y":9.2},{"i":"f1","x":79,"y":17.4},{"i":"f1","x":80,"y":20.5},{"i":"f1","x":81,"y":14.4},{"i":"f1","x":82,"y":4.1},{"i":"f1","x":83.5,"y":0.4},{"i":"f1","x":95,"y":0.2},
{"i":"f2","x":60,"y":2.5},{"i":"f2","x":70,"y":2.8},{"i":"f2","x":76.4,"y":3.0},{"i":"f2","x":77.9,"y":8.6},{"i":"f2","x":78.9,"y":16.2},{"i":"f2","x":79.9,"y":19},{"i":"f2","x":80.9,"y":13.3},{"i":"f2","x":81.9,"y":3.8},{"i":"f2","x":83.4,"y":0.4},{"i":"f2","x":95,"y":0.2},
{"i":"f3","x":60,"y":2.5},{"i":"f3","x":70,"y":2.8},{"i":"f3","x":78.7,"y":3.0},{"i":"f3","x":80.2,"y":7.4},{"i":"f3","x":81.2,"y":14},{"i":"f3","x":82.2,"y":16.5},{"i":"f3","x":83.2,"y":11.6},{"i":"f3","x":84.2,"y":3.3},{"i":"f3","x":85.7,"y":0.4},{"i":"f3","x":95,"y":0.2},
{"i":"f4","x":60,"y":2.7},{"i":"f4","x":70,"y":3.0},{"i":"f4","x":80.4,"y":3.2},{"i":"f4","x":81.9,"y":7},{"i":"f4","x":82.9,"y":13.2},{"i":"f4","x":83.9,"y":15.5},{"i":"f4","x":84.9,"y":10.9},{"i":"f4","x":85.9,"y":3.1},{"i":"f4","x":87.4,"y":0.3},{"i":"f4","x":95,"y":0.2},
{"i":"f5","x":60,"y":2.3},{"i":"f5","x":70,"y":2.6},{"i":"f5","x":80.1,"y":2.8},{"i":"f5","x":81.6,"y":5.9},{"i":"f5","x":82.6,"y":11.1},{"i":"f5","x":83.6,"y":13},{"i":"f5","x":84.6,"y":9.1},{"i":"f5","x":85.6,"y":2.6},{"i":"f5","x":87.1,"y":0.3},{"i":"f5","x":95,"y":0.2},
{"i":"g1","x":60,"y":2.7},{"i":"g1","x":64,"y":2.9},{"i":"g1","x":70,"y":2.8},{"i":"g1","x":72,"y":3.1},{"i":"g1","x":77,"y":3.2},{"i":"g1","x":78.2,"y":4.5},{"i":"g1","x":78.9,"y":8.5},{"i":"g1","x":79.7,"y":12.3},{"i":"g1","x":80.2,"y":15.1},{"i":"g1","x":81,"y":17.3},{"i":"g1","x":81.35,"y":16.1},{"i":"g1","x":81.7,"y":12.3},{"i":"g1","x":82.4,"y":7.1},{"i":"g1","x":82.9,"y":2.9},{"i":"g1","x":83.5,"y":0.5},{"i":"g1","x":84.2,"y":0.2},{"i":"g1","x":95,"y":0.2},
{"i":"g2","x":60,"y":2.6},{"i":"g2","x":64,"y":2.9},{"i":"g2","x":70,"y":2.8},{"i":"g2","x":72,"y":3.0},{"i":"g2","x":77,"y":3.2},{"i":"g2","x":77.8,"y":4.3},{"i":"g2","x":78.5,"y":8.1},{"i":"g2","x":79.3,"y":11.8},{"i":"g2","x":79.8,"y":14.4},{"i":"g2","x":80.6,"y":16.6},{"i":"g2","x":80.95,"y":15.4},{"i":"g2","x":81.3,"y":11.8},{"i":"g2","x":82,"y":6.8},{"i":"g2","x":82.5,"y":2.8},{"i":"g2","x":83.1,"y":0.5},{"i":"g2","x":83.8,"y":0.2},{"i":"g2","x":95,"y":0.2},
{"i":"d1","x":60,"y":2.0},{"i":"d1","x":63,"y":2.6},{"i":"d1","x":67,"y":2.6},{"i":"d1","x":70,"y":2.6},{"i":"d1","x":73,"y":3.0},{"i":"d1","x":77,"y":2.9},{"i":"d1","x":78,"y":4.1},{"i":"d1","x":78.7,"y":7.7},{"i":"d1","x":79.5,"y":11.1},{"i":"d1","x":80,"y":13.7},{"i":"d1","x":80.8,"y":15.7},{"i":"d1","x":81.15,"y":14.6},{"i":"d1","x":81.5,"y":11.1},{"i":"d1","x":82.2,"y":6.4},{"i":"d1","x":82.7,"y":2.7},{"i":"d1","x":83.3,"y":0.5},{"i":"d1","x":84,"y":0.2},{"i":"d1","x":95,"y":0.2},
{"i":"d2","x":60,"y":2.2},{"i":"d2","x":63,"y":2.6},{"i":"d2","x":67,"y":2.7},{"i":"d2","x":70,"y":2.6},{"i":"d2","x":73,"y":2.9},{"i":"d2","x":77,"y":2.9},{"i":"d2","x":77.9,"y":3.9},{"i":"d2","x":78.6,"y":7.4},{"i":"d2","x":79.4,"y":10.7},{"i":"d2","x":79.9,"y":13.1},{"i":"d2","x":80.7,"y":15},{"i":"d2","x":81.05,"y":14},{"i":"d2","x":81.4,"y":10.7},{"i":"d2","x":82.1,"y":6.2},{"i":"d2","x":82.6,"y":2.6},{"i":"d2","x":83.2,"y":0.5},{"i":"d2","x":83.9,"y":0.2},{"i":"d2","x":95,"y":0.2},
{"i":"d3","x":60,"y":1.7},{"i":"d3","x":64,"y":2.5},{"i":"d3","x":70,"y":2.5},{"i":"d3","x":75,"y":2.8},{"i":"d3","x":77.5,"y":2.9},{"i":"d3","x":78.2,"y":3.6},{"i":"d3","x":78.9,"y":6.8},{"i":"d3","x":79.7,"y":9.8},{"i":"d3","x":80.2,"y":12},{"i":"d3","x":81,"y":13.8},{"i":"d3","x":81.35,"y":12.8},{"i":"d3","x":81.7,"y":9.8},{"i":"d3","x":82.4,"y":5.7},{"i":"d3","x":82.9,"y":2.3},{"i":"d3","x":83.5,"y":0.4},{"i":"d3","x":84.2,"y":0.2},{"i":"d3","x":95,"y":0.2}
],
"I":[
{"i":"f1","x":60,"y":0.6},{"i":"f1","x":70,"y":0.8},{"i":"f1","x":75.8,"y":0.9},{"i":"f1","x":77.3,"y":3.7},{"i":"f1","x":78.3,"y":7.1},{"i":"f1","x":79.3,"y":8.3},{"i":"f1","x":80.3,"y":5.8},{"i":"f1","x":81.3,"y":1.7},{"i":"f1","x":82.8,"y":0.2},{"i":"f1","x":95,"y":0.2},
{"i":"f2","x":60,"y":0.5},{"i":"f2","x":68,"y":0.6},{"i":"f2","x":70.6,"y":1.2},{"i":"f2","x":71.6,"y":2.2},{"i":"f2","x":72.6,"y":2.8},{"i":"f2","x":73.6,"y":2.2},{"i":"f2","x":74.6,"y":1.2},{"i":"f2","x":76,"y":0.7},{"i":"f2","x":82,"y":0.3},{"i":"f2","x":95,"y":0.2},
{"i":"f3","x":60,"y":0.4},{"i":"f3","x":70,"y":0.5},{"i":"f3","x":75,"y":0.6},{"i":"f3","x":76.5,"y":2.3},{"i":"f3","x":77.5,"y":4.3},{"i":"f3","x":78.5,"y":5},{"i":"f3","x":79.5,"y":3.5},{"i":"f3","x":80.5,"y":1},{"i":"f3","x":82,"y":0.2},{"i":"f3","x":95,"y":0.2},
{"i":"f4","x":60,"y":0.7},{"i":"f4","x":70,"y":0.8},{"i":"f4","x":77.2,"y":0.9},{"i":"f4","x":78.7,"y":1.5},{"i":"f4","x":79.7,"y":2.7},{"i":"f4","x":80.7,"y":3.2},{"i":"f4","x":81.7,"y":2.2},{"i":"f4","x":82.7,"y":0.7},{"i":"f4","x":84.2,"y":0.2},{"i":"f4","x":95,"y":0.2},
{"i":"g1","x":60,"y":1.2},{"i":"g1","x":62,"y":1.4},{"i":"g1","x":64.5,"y":1.55},{"i":"g1","x":67,"y":1.45},{"i":"g1","x":70,"y":1.35},{"i":"g1","x":74,"y":1.5},{"i":"g1","x":77,"y":1.45},{"i":"g1","x":78,"y":1.5},{"i":"g1","x":78.6,"y":2.0},{"i":"g1","x":79.1,"y":3.2},{"i":"g1","x":79.5,"y":4.7},{"i":"g1","x":80,"y":6.1},{"i":"g1","x":80.5,"y":7.5},{"i":"g1","x":81.1,"y":8.4},{"i":"g1","x":81.7,"y":8.75},{"i":"g1","x":82.3,"y":8.1},{"i":"g1","x":82.7,"y":6.0},{"i":"g1","x":83.2,"y":3.2},{"i":"g1","x":83.75,"y":1.0},{"i":"g1","x":84.5,"y":0.3},{"i":"g1","x":88,"y":0.35},{"i":"g1","x":95,"y":0.3},
{"i":"g2","x":60,"y":1.15},{"i":"g2","x":63,"y":1.4},{"i":"g2","x":66,"y":1.45},{"i":"g2","x":70,"y":1.4},{"i":"g2","x":74,"y":1.45},{"i":"g2","x":78,"y":1.45},{"i":"g2","x":78.8,"y":2.0},{"i":"g2","x":79.3,"y":3.2},{"i":"g2","x":79.7,"y":4.7},{"i":"g2","x":80.2,"y":6.1},{"i":"g2","x":80.7,"y":7.5},{"i":"g2","x":81.3,"y":8.4},{"i":"g2","x":81.9,"y":8.7},{"i":"g2","x":82.5,"y":8.1},{"i":"g2","x":82.9,"y":6.0},{"i":"g2","x":83.4,"y":3.2},{"i":"g2","x":83.95,"y":1.0},{"i":"g2","x":84.7,"y":0.3},{"i":"g2","x":88,"y":0.35},{"i":"g2","x":95,"y":0.3},
{"i":"k","x":60,"y":0.9},{"i":"k","x":63,"y":1.3},{"i":"k","x":67,"y":1.3},{"i":"k","x":72,"y":1.3},{"i":"k","x":78,"y":1.3},{"i":"k","x":78.6,"y":1.9},{"i":"k","x":79.1,"y":3.1},{"i":"k","x":79.5,"y":4.5},{"i":"k","x":80,"y":5.9},{"i":"k","x":80.5,"y":7.2},{"i":"k","x":81.1,"y":8.1},{"i":"k","x":81.7,"y":8.4},{"i":"k","x":82.3,"y":7.8},{"i":"k","x":82.7,"y":5.8},{"i":"k","x":83.2,"y":3.1},{"i":"k","x":83.75,"y":0.9},{"i":"k","x":84.5,"y":0.3},{"i":"k","x":88,"y":0.3},{"i":"k","x":95,"y":0.3},
{"i":"d1","x":60,"y":0.85},{"i":"d1","x":63,"y":1.15},{"i":"d1","x":70,"y":1.2},{"i":"d1","x":78,"y":1.25},{"i":"d1","x":78.8,"y":1.7},{"i":"d1","x":79.3,"y":2.7},{"i":"d1","x":79.7,"y":4.0},{"i":"d1","x":80.2,"y":5.2},{"i":"d1","x":80.7,"y":6.4},{"i":"d1","x":81.3,"y":7.1},{"i":"d1","x":81.9,"y":7.4},{"i":"d1","x":82.5,"y":6.9},{"i":"d1","x":82.9,"y":5.1},{"i":"d1","x":83.4,"y":2.7},{"i":"d1","x":83.95,"y":0.8},{"i":"d1","x":84.7,"y":0.3},{"i":"d1","x":88,"y":0.3},{"i":"d1","x":95,"y":0.3},
{"i":"d2","x":60,"y":0.95},{"i":"d2","x":64,"y":1.25},{"i":"d2","x":70,"y":1.25},{"i":"d2","x":77,"y":1.3},{"i":"d2","x":78.5,"y":1.5},{"i":"d2","x":79,"y":2.4},{"i":"d2","x":79.4,"y":3.5},{"i":"d2","x":79.9,"y":4.6},{"i":"d2","x":80.4,"y":5.6},{"i":"d2","x":81,"y":6.2},{"i":"d2","x":81.6,"y":6.5},{"i":"d2","x":82.2,"y":6.0},{"i":"d2","x":82.6,"y":4.5},{"i":"d2","x":83.1,"y":2.4},{"i":"d2","x":83.65,"y":0.7},{"i":"d2","x":84.4,"y":0.3},{"i":"d2","x":88,"y":0.3},{"i":"d2","x":95,"y":0.3}
],
"J":[
{"i":"f1","x":60,"y":3.2},{"i":"f1","x":70,"y":3.5},{"i":"f1","x":76,"y":3.7},{"i":"f1","x":77.5,"y":10.4},{"i":"f1","x":78.5,"y":19.7},{"i":"f1","x":79.5,"y":23.2},{"i":"f1","x":80.5,"y":16.2},{"i":"f1","x":81.5,"y":4.6},{"i":"f1","x":83,"y":0.5},{"i":"f1","x":95,"y":0.1},
{"i":"f2","x":60,"y":2.7},{"i":"f2","x":70,"y":3.0},{"i":"f2","x":76.1,"y":3.2},{"i":"f2","x":77.6,"y":9.7},{"i":"f2","x":78.6,"y":18.3},{"i":"f2","x":79.6,"y":21.5},{"i":"f2","x":80.6,"y":15.1},{"i":"f2","x":81.6,"y":4.3},{"i":"f2","x":83.1,"y":0.4},{"i":"f2","x":95,"y":0.1},
{"i":"f3","x":60,"y":3.5},{"i":"f3","x":70,"y":3.8},{"i":"f3","x":76.5,"y":4.0},{"i":"f3","x":78,"y":8.6},{"i":"f3","x":79,"y":16.2},{"i":"f3","x":80,"y":19},{"i":"f3","x":81,"y":13.3},{"i":"f3","x":82,"y":3.8},{"i":"f3","x":83.5,"y":0.4},{"i":"f3","x":95,"y":0.1},
{"i":"f4","x":60,"y":2.7},{"i":"f4","x":70,"y":3.0},{"i":"f4","x":78.5,"y":3.2},{"i":"f4","x":80,"y":7.9},{"i":"f4","x":81,"y":14.9},{"i":"f4","x":82,"y":17.5},{"i":"f4","x":83,"y":12.3},{"i":"f4","x":84,"y":3.5},{"i":"f4","x":85.5,"y":0.4},{"i":"f4","x":95,"y":0.1},
{"i":"f5","x":60,"y":2.2},{"i":"f5","x":70,"y":2.5},{"i":"f5","x":78.4,"y":2.7},{"i":"f5","x":79.9,"y":7.4},{"i":"f5","x":80.9,"y":14},{"i":"f5","x":81.9,"y":16.5},{"i":"f5","x":82.9,"y":11.6},{"i":"f5","x":83.9,"y":3.3},{"i":"f5","x":85.4,"y":0.3},{"i":"f5","x":95,"y":0.1},
{"i":"g1","x":60,"y":2.8},{"i":"g1","x":63,"y":3.0},{"i":"g1","x":66,"y":3.0},{"i":"g1","x":69,"y":3.3},{"i":"g1","x":71,"y":3.0},{"i":"g1","x":74,"y":3.0},{"i":"g1","x":76.8,"y":3.2},{"i":"g1","x":77.3,"y":3.5},{"i":"g1","x":78,"y":6.2},{"i":"g1","x":78.75,"y":10},{"i":"g1","x":79.5,"y":13.8},{"i":"g1","x":80,"y":15.7},{"i":"g1","x":80.5,"y":16.4},{"i":"g1","x":81.1,"y":15.6},{"i":"g1","x":81.6,"y":12.3},{"i":"g1","x":82.3,"y":7.2},{"i":"g1","x":82.9,"y":3.1},{"i":"g1","x":83.6,"y":0.5},{"i":"g1","x":84.1,"y":0.05},{"i":"g1","x":95,"y":0.0},
{"i":"g2","x":60,"y":2.6},{"i":"g2","x":64,"y":2.8},{"i":"g2","x":69,"y":3.1},{"i":"g2","x":72,"y":3.0},{"i":"g2","x":77,"y":3.3},{"i":"g2","x":77.6,"y":3.4},{"i":"g2","x":78.3,"y":5.7},{"i":"g2","x":79.05,"y":9.2},{"i":"g2","x":79.8,"y":12.6},{"i":"g2","x":80.3,"y":14.4},{"i":"g2","x":80.8,"y":15},{"i":"g2","x":81.4,"y":14.3},{"i":"g2","x":81.9,"y":11.3},{"i":"g2","x":82.6,"y":6.6},{"i":"g2","x":83.2,"y":2.9},{"i":"g2","x":83.9,"y":0.5},{"i":"g2","x":84.4,"y":0.05},{"i":"g2","x":95,"y":0.0},
{"i":"d1","x":60,"y":2.4},{"i":"d1","x":63,"y":2.6},{"i":"d1","x":66,"y":2.4},{"i":"d1","x":68,"y":2.5},{"i":"d1","x":70,"y":2.8},{"i":"d1","x":75,"y":3.0},{"i":"d1","x":77,"y":3.2},{"i":"d1","x":77.4,"y":3.3},{"i":"d1","x":78.1,"y":5.6},{"i":"d1","x":78.85,"y":9.0},{"i":"d1","x":79.6,"y":12.3},{"i":"d1","x":80.1,"y":14.1},{"i":"d1","x":80.6,"y":14.7},{"i":"d1","x":81.2,"y":14},{"i":"d1","x":81.7,"y":11},{"i":"d1","x":82.4,"y":6.5},{"i":"d1","x":83,"y":2.8},{"i":"d1","x":83.7,"y":0.4},{"i":"d1","x":84.2,"y":0.05},{"i":"d1","x":95,"y":0.0},
{"i":"d2","x":60,"y":2.3},{"i":"d2","x":64,"y":2.5},{"i":"d2","x":67,"y":2.3},{"i":"d2","x":70,"y":2.7},{"i":"d2","x":77,"y":3.2},{"i":"d2","x":77.7,"y":3.3},{"i":"d2","x":78.4,"y":5.3},{"i":"d2","x":79.15,"y":8.5},{"i":"d2","x":79.9,"y":11.8},{"i":"d2","x":80.4,"y":13.4},{"i":"d2","x":80.9,"y":14},{"i":"d2","x":81.5,"y":13.3},{"i":"d2","x":82,"y":10.5},{"i":"d2","x":82.7,"y":6.2},{"i":"d2","x":83.3,"y":2.7},{"i":"d2","x":84,"y":0.4},{"i":"d2","x":84.5,"y":0.05},{"i":"d2","x":95,"y":0.0},
{"i":"k","x":60,"y":2.5},{"i":"k","x":65,"y":2.7},{"i":"k","x":70,"y":2.8},{"i":"k","x":77,"y":3.3},{"i":"k","x":77.5,"y":3.4},{"i":"k","x":78.2,"y":5.4},{"i":"k","x":78.95,"y":8.7},{"i":"k","x":79.7,"y":11.9},{"i":"k","x":80.2,"y":13.6},{"i":"k","x":80.7,"y":14.2},{"i":"k","x":81.3,"y":13.5},{"i":"k","x":81.8,"y":10.7},{"i":"k","x":82.5,"y":6.2},{"i":"k","x":83.1,"y":2.7},{"i":"k","x":83.8,"y":0.4},{"i":"k","x":84.3,"y":0.05},{"i":"k","x":95,"y":0.0}
],
"K":[
{"i":"f1","x":60,"y":2.3},{"i":"f1","x":70,"y":2.6},{"i":"f1","x":76.5,"y":2.8},{"i":"f1","x":78,"y":8.7},{"i":"f1","x":79,"y":16.4},{"i":"f1","x":80,"y":19.3},{"i":"f1","x":81,"y":13.5},{"i":"f1","x":82,"y":3.9},{"i":"f1","x":83.5,"y":0.4},{"i":"f1","x":95,"y":0.1},
{"i":"f2","x":60,"y":2.1},{"i":"f2","x":70,"y":2.4},{"i":"f2","x":76.4,"y":2.6},{"i":"f2","x":77.9,"y":7.4},{"i":"f2","x":78.9,"y":14},{"i":"f2","x":79.9,"y":16.5},{"i":"f2","x":80.9,"y":11.6},{"i":"f2","x":81.9,"y":3.3},{"i":"f2","x":83.4,"y":0.3},{"i":"f2","x":95,"y":0.1},
{"i":"f3","x":60,"y":2.3},{"i":"f3","x":70,"y":2.6},{"i":"f3","x":77.9,"y":2.8},{"i":"f3","x":79.4,"y":6.4},{"i":"f3","x":80.4,"y":12.2},{"i":"f3","x":81.4,"y":14.3},{"i":"f3","x":82.4,"y":10},{"i":"f3","x":83.4,"y":2.9},{"i":"f3","x":84.9,"y":0.3},{"i":"f3","x":95,"y":0.1},
{"i":"f4","x":60,"y":2.2},{"i":"f4","x":70,"y":2.5},{"i":"f4","x":79.5,"y":2.7},{"i":"f4","x":81,"y":7.9},{"i":"f4","x":82,"y":14.9},{"i":"f4","x":83,"y":17.5},{"i":"f4","x":84,"y":12.3},{"i":"f4","x":85,"y":3.5},{"i":"f4","x":86.5,"y":0.4},{"i":"f4","x":95,"y":0.1},
{"i":"f5","x":60,"y":1.9},{"i":"f5","x":70,"y":2.2},{"i":"f5","x":80.5,"y":2.4},{"i":"f5","x":82,"y":5.4},{"i":"f5","x":83,"y":10.2},{"i":"f5","x":84,"y":12},{"i":"f5","x":85,"y":8.4},{"i":"f5","x":86,"y":2.4},{"i":"f5","x":87.5,"y":0.2},{"i":"f5","x":95,"y":0.1},
{"i":"g1","x":60,"y":2.0},{"i":"g1","x":62,"y":2.4},{"i":"g1","x":66,"y":2.4},{"i":"g1","x":70,"y":2.3},{"i":"g1","x":75,"y":2.3},{"i":"g1","x":80.1,"y":3.0},{"i":"g1","x":81.2,"y":4.1},{"i":"g1","x":82.3,"y":6.0},{"i":"g1","x":83,"y":7.8},{"i":"g1","x":83.5,"y":9.8},{"i":"g1","x":84.1,"y":10.6},{"i":"g1","x":84.6,"y":9.4},{"i":"g1","x":85.4,"y":5.9},{"i":"g1","x":86.1,"y":2.7},{"i":"g1","x":86.8,"y":0.5},{"i":"g1","x":87.6,"y":0.1},{"i":"g1","x":95,"y":0.1},
{"i":"g2","x":60,"y":1.6},{"i":"g2","x":62,"y":2.1},{"i":"g2","x":66,"y":2.0},{"i":"g2","x":70,"y":2.0},{"i":"g2","x":75,"y":2.1},{"i":"g2","x":80.3,"y":2.4},{"i":"g2","x":81.4,"y":3.0},{"i":"g2","x":82.5,"y":4.4},{"i":"g2","x":83.2,"y":5.8},{"i":"g2","x":83.7,"y":7.2},{"i":"g2","x":84.3,"y":7.8},{"i":"g2","x":84.8,"y":6.9},{"i":"g2","x":85.6,"y":4.4},{"i":"g2","x":86.3,"y":2.0},{"i":"g2","x":87,"y":0.4},{"i":"g2","x":87.8,"y":0.1},{"i":"g2","x":95,"y":0.1},
{"i":"d1","x":60,"y":2.3},{"i":"d1","x":63,"y":2.6},{"i":"d1","x":70,"y":2.6},{"i":"d1","x":75,"y":2.6},{"i":"d1","x":80,"y":3.0},{"i":"d1","x":81.1,"y":3.7},{"i":"d1","x":82.2,"y":5.4},{"i":"d1","x":82.9,"y":7.0},{"i":"d1","x":83.4,"y":8.7},{"i":"d1","x":84,"y":9.5},{"i":"d1","x":84.5,"y":8.5},{"i":"d1","x":85.3,"y":5.3},{"i":"d1","x":86,"y":2.4},{"i":"d1","x":86.7,"y":0.5},{"i":"d1","x":87.5,"y":0.1},{"i":"d1","x":95,"y":0.1},
{"i":"d2","x":60,"y":2.1},{"i":"d2","x":64,"y":2.5},{"i":"d2","x":70,"y":2.5},{"i":"d2","x":75,"y":2.6},{"i":"d2","x":80,"y":2.9},{"i":"d2","x":81.1,"y":3.5},{"i":"d2","x":82.2,"y":5.1},{"i":"d2","x":82.9,"y":6.7},{"i":"d2","x":83.4,"y":8.3},{"i":"d2","x":84,"y":9.0},{"i":"d2","x":84.5,"y":8.0},{"i":"d2","x":85.3,"y":5.0},{"i":"d2","x":86,"y":2.3},{"i":"d2","x":86.7,"y":0.5},{"i":"d2","x":87.5,"y":0.1},{"i":"d2","x":95,"y":0.1},
{"i":"d3","x":60,"y":2.2},{"i":"d3","x":64,"y":2.6},{"i":"d3","x":70,"y":2.6},{"i":"d3","x":79,"y":2.9},{"i":"d3","x":80.2,"y":2.9},{"i":"d3","x":81.3,"y":3.3},{"i":"d3","x":82.4,"y":4.8},{"i":"d3","x":83.1,"y":6.3},{"i":"d3","x":83.6,"y":7.8},{"i":"d3","x":84.2,"y":8.5},{"i":"d3","x":84.7,"y":7.6},{"i":"d3","x":85.5,"y":4.8},{"i":"d3","x":86.2,"y":2.1},{"i":"d3","x":86.9,"y":0.4},{"i":"d3","x":87.7,"y":0.1},{"i":"d3","x":95,"y":0.1}
]
},
"concat":[
{"data":{"name":"A"},"width":324,"height":177,"view":{"fill":"#f9e4e4","stroke":"#8a8a8a"},"title":"A",
"encoding":{"x":{"field":"x","type":"quantitative","scale":{"domain":[60,95],"nice":false},"axis":{"title":"Temperature (°C)","gridColor":"#e6a0a0"}},
"y":{"field":"y","type":"quantitative","scale":{"domain":[0,28],"nice":false},"axis":{"title":"Derivative Reporter (-Rn′ ×10⁴)","gridColor":"#e6a0a0","values":[0,1,2,3,4,5,6,7,8,9,10,11,12,13,14,15,16,17,18,19,20,21,22,23,24,25,26,27,28],"labelExpr":"indexof([4,9,14,19,24],datum.value)>=0?datum.label:''"}}},
"layer":[
{"transform":[{"filter":"indexof(datum.i,'f')==0"}],"mark":{"type":"line","interpolate":"monotone","clip":true,"color":"#efb0b0","strokeWidth":1.5},"encoding":{"detail":{"field":"i"}}},
{"transform":[{"filter":"indexof(datum.i,'f')!=0"}],"mark":{"type":"line","interpolate":"monotone","clip":true,"strokeWidth":1.4},"encoding":{"color":{"field":"i","scale":{"domain":["g1","g2","d1","d2","k"],"range":["#9900ff","#e040e0","#1a7a6a","#2a8a5a","#1a1a80"]},"legend":{"title":"c37490_g1","values":["g1","d1"],"labelExpr":"substring(datum.label,0,1)"}}}}
]},
{"data":{"name":"B"},"width":324,"height":177,"view":{"fill":"#f3faf9","stroke":"#8a8a8a"},"title":"B",
"encoding":{"x":{"field":"x","type":"quantitative","scale":{"domain":[60,95],"nice":false},"axis":{"title":"Temperature (°C)","gridColor":"#5dbdb5"}},
"y":{"field":"y","type":"quantitative","scale":{"domain":[0,28],"nice":false},"axis":{"title":"Derivative Reporter (-Rn′ ×10⁴)","gridColor":"#5dbdb5","values":[0,1,2,3,4,5,6,7,8,9,10,11,12,13,14,15,16,17,18,19,20,21,22,23,24,25,26,27,28],"labelExpr":"indexof([4,9,14,19,24],datum.value)>=0?datum.label:''"}}},
"layer":[
{"transform":[{"filter":"indexof(datum.i,'f')==0"}],"mark":{"type":"line","interpolate":"monotone","clip":true,"color":"#a4dbd6","strokeWidth":1.5},"encoding":{"detail":{"field":"i"}}},
{"transform":[{"filter":"indexof(datum.i,'f')!=0"}],"mark":{"type":"line","interpolate":"monotone","clip":true,"strokeWidth":1.4},"encoding":{"color":{"field":"i","scale":{"domain":["g1","g2","d1","d2","k"],"range":["#0022ff","#2050ee","#006622","#1a8a3a","#0a1a6a"]},"legend":{"title":"c38398_g1","values":["g1","d1"],"labelExpr":"substring(datum.label,0,1)"}}}}
]},
{"data":{"name":"C"},"width":324,"height":177,"view":{"fill":"#e7f4ea","stroke":"#8a8a8a"},"title":"C",
"encoding":{"x":{"field":"x","type":"quantitative","scale":{"domain":[60,95],"nice":false},"axis":{"title":"Temperature (°C)","gridColor":"#6cc08a"}},
"y":{"field":"y","type":"quantitative","scale":{"domain":[0,21],"nice":false},"axis":{"title":"Derivative Reporter (-Rn′ ×10⁴)","gridColor":"#6cc08a","values":[0,1,2,3,4,5,6,7,8,9,10,11,12,13,14,15,16,17,18,19,20,21],"labelExpr":"indexof([4,9,14,19],datum.value)>=0?datum.label:''"}}},
"layer":[
{"transform":[{"filter":"indexof(datum.i,'f')==0"}],"mark":{"type":"line","interpolate":"monotone","clip":true,"color":"#acdab8","strokeWidth":1.5},"encoding":{"detail":{"field":"i"}}},
{"transform":[{"filter":"indexof(datum.i,'f')!=0"}],"mark":{"type":"line","interpolate":"monotone","clip":true,"strokeWidth":1.4},"encoding":{"color":{"field":"i","scale":{"domain":["g1","g2","d1","d2"],"range":["#0044ff","#1a66dd","#0a8040","#20a050"]},"legend":{"title":"c38773_g1","values":["g1","d1"],"labelExpr":"substring(datum.label,0,1)"}}}}
]},
{"data":{"name":"D"},"width":324,"height":177,"view":{"fill":"#e8e8f4","stroke":"#8a8a8a"},"title":"D",
"encoding":{"x":{"field":"x","type":"quantitative","scale":{"domain":[60,95],"nice":false},"axis":{"title":"Temperature (°C)","gridColor":"#8e8ecb"}},
"y":{"field":"y","type":"quantitative","scale":{"domain":[0,21],"nice":false},"axis":{"title":"Derivative Reporter (-Rn′ ×10⁴)","gridColor":"#8e8ecb","values":[0,1,2,3,4,5,6,7,8,9,10,11,12,13,14,15,16,17,18,19,20,21],"labelExpr":"indexof([4,9,14,19],datum.value)>=0?datum.label:''"}}},
"layer":[
{"transform":[{"filter":"indexof(datum.i,'f')==0"}],"mark":{"type":"line","interpolate":"monotone","clip":true,"color":"#bebee0","strokeWidth":1.5},"encoding":{"detail":{"field":"i"}}},
{"transform":[{"filter":"indexof(datum.i,'f')!=0"}],"mark":{"type":"line","interpolate":"monotone","clip":true,"strokeWidth":1.4},"encoding":{"color":{"field":"i","scale":{"domain":["g1","g2","g3","d1","k"],"range":["#0010ff","#2040e0","#1030c0","#1a8a5a","#0a0a70"]},"legend":{"title":"c52670_g1","values":["g1","d1"],"labelExpr":"substring(datum.label,0,1)"}}}}
]},
{"data":{"name":"E"},"width":324,"height":177,"view":{"fill":"#f0eedc","stroke":"#8a8a8a"},"title":"E",
"encoding":{"x":{"field":"x","type":"quantitative","scale":{"domain":[60,95],"nice":false},"axis":{"title":"Temperature (°C)","gridColor":"#cbc59c"}},
"y":{"field":"y","type":"quantitative","scale":{"domain":[0,21],"nice":false},"axis":{"title":"Derivative Reporter (-Rn′ ×10⁴)","gridColor":"#cbc59c","values":[0,1,2,3,4,5,6,7,8,9,10,11,12,13,14,15,16,17,18,19,20,21],"labelExpr":"indexof([4,9,14,19],datum.value)>=0?datum.label:''"}}},
"layer":[
{"transform":[{"filter":"indexof(datum.i,'f')==0"}],"mark":{"type":"line","interpolate":"monotone","clip":true,"color":"#dbd5b4","strokeWidth":1.5},"encoding":{"detail":{"field":"i"}}},
{"transform":[{"filter":"indexof(datum.i,'f')!=0"}],"mark":{"type":"line","interpolate":"monotone","clip":true,"strokeWidth":1.4},"encoding":{"color":{"field":"i","scale":{"domain":["g1","g2","d1","d2","k"],"range":["#2a2aff","#4a4aee","#0a8a3a","#30b050","#101070"]},"legend":{"title":"c58750_g1","values":["g1","d1"],"labelExpr":"substring(datum.label,0,1)"}}}}
]},
{"data":{"name":"F"},"width":324,"height":177,"view":{"fill":"#fdf0d6","stroke":"#8a8a8a"},"title":"F",
"encoding":{"x":{"field":"x","type":"quantitative","scale":{"domain":[60,95],"nice":false},"axis":{"title":"Temperature (°C)","gridColor":"#f0c470"}},
"y":{"field":"y","type":"quantitative","scale":{"domain":[0,12.7],"nice":false},"axis":{"title":"Derivative Reporter (-Rn′ ×10⁴)","gridColor":"#f0c470","values":[0,0.5,1,1.5,2,2.5,3,3.5,4,4.5,5,5.5,6,6.5,7,7.5,8,8.5,9,9.5,10,10.5,11,11.5,12,12.5],"labelExpr":"indexof([1,3,5,7,9,11],datum.value)>=0?format(datum.value,'d'):''"}}},
"layer":[
{"transform":[{"filter":"indexof(datum.i,'f')==0"}],"mark":{"type":"line","interpolate":"monotone","clip":true,"color":"#f5d89c","strokeWidth":1.5},"encoding":{"detail":{"field":"i"}}},
{"transform":[{"filter":"indexof(datum.i,'f')!=0"}],"mark":{"type":"line","interpolate":"monotone","clip":true,"strokeWidth":1.4},"encoding":{"color":{"field":"i","scale":{"domain":["g1","g2","d1","d2","k"],"range":["#c040ff","#b030e0","#00c000","#20a020","#101060"]},"legend":{"title":"c60031_g1","values":["g1","d1"],"labelExpr":"substring(datum.label,0,1)"}}}}
]},
{"data":{"name":"G"},"width":324,"height":177,"view":{"fill":"#f3f9dc","stroke":"#8a8a8a"},"title":"G",
"encoding":{"x":{"field":"x","type":"quantitative","scale":{"domain":[60,95],"nice":false},"axis":{"title":"Temperature (°C)","gridColor":"#b6da6a"}},
"y":{"field":"y","type":"quantitative","scale":{"domain":[0.2,23.5],"nice":false},"axis":{"title":"Derivative Reporter (-Rn′ ×10⁴)","gridColor":"#b6da6a","values":[1,2,3,4,5,6,7,8,9,10,11,12,13,14,15,16,17,18,19,20,21,22,23],"labelExpr":"indexof([4,9,14,19],datum.value)>=0?datum.label:''"}}},
"layer":[
{"transform":[{"filter":"indexof(datum.i,'f')==0"}],"mark":{"type":"line","interpolate":"monotone","clip":true,"color":"#d8eba6","strokeWidth":1.5},"encoding":{"detail":{"field":"i"}}},
{"transform":[{"filter":"indexof(datum.i,'f')!=0"}],"mark":{"type":"line","interpolate":"monotone","clip":true,"strokeWidth":1.4},"encoding":{"color":{"field":"i","scale":{"domain":["g1","g2","d1","d2","d3"],"range":["#3399cc","#2f8fd0","#0a8a3a","#00cc00","#22b022"]},"legend":{"title":"c56677_g1","values":["g1","d1"],"labelExpr":"substring(datum.label,0,1)"}}}}
]},
{"data":{"name":"H"},"width":324,"height":177,"view":{"fill":"#e4eded","stroke":"#8a8a8a"},"title":"H",
"encoding":{"x":{"field":"x","type":"quantitative","scale":{"domain":[60,95],"nice":false},"axis":{"title":"Temperature (°C)","gridColor":"#88a9a9"}},
"y":{"field":"y","type":"quantitative","scale":{"domain":[0,22.4],"nice":false},"axis":{"title":"Derivative Reporter (-Rn′ ×10⁴)","gridColor":"#88a9a9","values":[0,1,2,3,4,5,6,7,8,9,10,11,12,13,14,15,16,17,18,19,20,21,22],"labelExpr":"indexof([4,9,14,19],datum.value)>=0?datum.label:''"}}},
"layer":[
{"transform":[{"filter":"indexof(datum.i,'f')==0"}],"mark":{"type":"line","interpolate":"monotone","clip":true,"color":"#bccdcd","strokeWidth":1.5},"encoding":{"detail":{"field":"i"}}},
{"transform":[{"filter":"indexof(datum.i,'f')!=0"}],"mark":{"type":"line","interpolate":"monotone","clip":true,"strokeWidth":1.4},"encoding":{"color":{"field":"i","scale":{"domain":["g1","g2","d1","d2","d3"],"range":["#00e5e0","#20d0d8","#5c8a00","#1a7a3a","#2a6a2a"]},"legend":{"title":"c50771_g1","values":["g1","d1"],"labelExpr":"substring(datum.label,0,1)"}}}}
]},
{"data":{"name":"I"},"width":324,"height":177,"view":{"fill":"#efedd5","stroke":"#8a8a8a"},"title":"I",
"encoding":{"x":{"field":"x","type":"quantitative","scale":{"domain":[60,95],"nice":false},"axis":{"title":"Temperature (°C)","gridColor":"#cdc799"}},
"y":{"field":"y","type":"quantitative","scale":{"domain":[-0.2,9.33],"nice":false},"axis":{"title":"Derivative Reporter (-Rn′ ×10⁴)","gridColor":"#cdc799","values":[-0.1,0.1,0.3,0.5,0.7,0.9,1.1,1.3,1.5,1.7,1.9,2.1,2.3,2.5,2.7,2.9,3.1,3.3,3.5,3.7,3.9,4.1,4.3,4.5,4.7,4.9,5.1,5.3,5.5,5.7,5.9,6.1,6.3,6.5,6.7,6.9,7.1,7.3,7.5,7.7,7.9,8.1,8.3,8.5,8.7,8.9,9.1,9.3],"labelExpr":"indexof([0.7,1.7,2.7,3.7,4.7,5.7,6.7,7.7,8.7],datum.value)>=0?format(datum.value,'.1f'):''"}}},
"layer":[
{"transform":[{"filter":"indexof(datum.i,'f')==0"}],"mark":{"type":"line","interpolate":"monotone","clip":true,"color":"#e0dcb6","strokeWidth":1.5},"encoding":{"detail":{"field":"i"}}},
{"transform":[{"filter":"indexof(datum.i,'f')!=0"}],"mark":{"type":"line","interpolate":"monotone","clip":true,"strokeWidth":1.4},"encoding":{"color":{"field":"i","scale":{"domain":["g1","g2","k","d1","d2"],"range":["#ff4a00","#ff7a1a","#8a0a1a","#a0306a","#b04a80"]},"legend":{"title":"c58897_g1","values":["g1","d1"],"labelExpr":"substring(datum.label,0,1)"}}}}
]},
{"data":{"name":"J"},"width":324,"height":177,"view":{"fill":"#f0f0f0","stroke":"#8a8a8a"},"title":"J",
"encoding":{"x":{"field":"x","type":"quantitative","scale":{"domain":[60,95],"nice":false},"axis":{"title":"Temperature (°C)","gridColor":"#bdbdbd"}},
"y":{"field":"y","type":"quantitative","scale":{"domain":[-0.3,24.4],"nice":false},"axis":{"title":"Derivative Reporter (-Rn′ ×10⁴)","gridColor":"#bdbdbd","values":[0,1,2,3,4,5,6,7,8,9,10,11,12,13,14,15,16,17,18,19,20,21,22,23,24],"labelExpr":"indexof([4,9,14,19,24],datum.value)>=0?datum.label:''"}}},
"layer":[
{"transform":[{"filter":"indexof(datum.i,'f')==0"}],"mark":{"type":"line","interpolate":"monotone","clip":true,"color":"#d0d0d0","strokeWidth":1.5},"encoding":{"detail":{"field":"i"}}},
{"transform":[{"filter":"indexof(datum.i,'f')!=0"}],"mark":{"type":"line","interpolate":"monotone","clip":true,"strokeWidth":1.4},"encoding":{"color":{"field":"i","scale":{"domain":["g1","g2","d1","d2","k"],"range":["#ff30e0","#ee44cc","#2a7a90","#3a8aa0","#1a2a70"]},"legend":{"title":"c47080_g1","values":["g1","d1"],"labelExpr":"substring(datum.label,0,1)"}}}}
]},
{"data":{"name":"K"},"width":324,"height":177,"view":{"fill":"#e8eee4","stroke":"#8a8a8a"},"title":"K",
"encoding":{"x":{"field":"x","type":"quantitative","scale":{"domain":[60,95],"nice":false},"axis":{"title":"Temperature (°C)","gridColor":"#a0b398"}},
"y":{"field":"y","type":"quantitative","scale":{"domain":[0,21],"nice":false},"axis":{"title":"Derivative Reporter (-Rn′ ×10⁴)","gridColor":"#a0b398","values":[0,1,2,3,4,5,6,7,8,9,10,11,12,13,14,15,16,17,18,19,20,21],"labelExpr":"indexof([4,9,14,19],datum.value)>=0?datum.label:''"}}},
"layer":[
{"transform":[{"filter":"indexof(datum.i,'f')==0"}],"mark":{"type":"line","interpolate":"monotone","clip":true,"color":"#c2d0bc","strokeWidth":1.5},"encoding":{"detail":{"field":"i"}}},
{"transform":[{"filter":"indexof(datum.i,'f')!=0"}],"mark":{"type":"line","interpolate":"monotone","clip":true,"strokeWidth":1.4},"encoding":{"color":{"field":"i","scale":{"domain":["g1","g2","d1","d2","d3"],"range":["#0022ff","#3344ee","#0a8a3a","#1aa04a","#2a7a4a"]},"legend":{"title":"c58837_g1","values":["g1","d1"],"labelExpr":"substring(datum.label,0,1)"}}}}
]}
]
}
